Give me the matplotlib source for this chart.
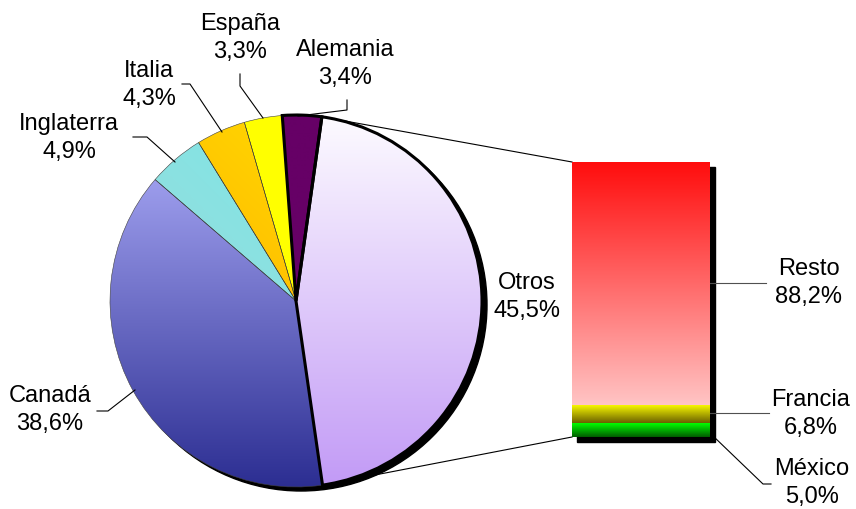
import numpy as np
import matplotlib
matplotlib.use('Agg')
import matplotlib.pyplot as plt
from matplotlib.colors import to_rgb
from matplotlib.patches import Rectangle, Circle

plt.rcParams['font.family'] = ['Liberation Sans', 'DejaVu Sans']

# ---- data ----
pie_labels = ['Otros', 'Canadá', 'Inglaterra', 'Italia', 'España', 'Alemania']
pie_values = [45.5, 38.6, 4.9, 4.3, 3.3, 3.4]
bar_labels = ['Resto', 'Francia', 'México']
bar_values = [88.2, 6.8, 5.0]

W, H = 856, 509
fig = plt.figure(figsize=(W / 100, H / 100), dpi=100)
fig.patch.set_facecolor('white')
ax = fig.add_axes([0, 0, 1, 1])


def py(y):
    return H - y


def grad_fill(axis, patch, c_start, c_end, extent, direction='v', zorder=2):
    n = 256
    t = np.linspace(0, 1, n)
    c0 = np.array(to_rgb(c_start))
    c1 = np.array(to_rgb(c_end))
    if direction == 'v':
        img = (c0[None, :] * (1 - t[:, None]) + c1[None, :] * t[:, None])[:, None, :]
    else:
        X, Y = np.meshgrid(t, t)
        s = (X + (1 - Y)) / 2
        img = c0 * (1 - s[..., None]) + c1 * s[..., None]
    im = axis.imshow(img, extent=extent, origin='upper', aspect='auto',
                     interpolation='bilinear', zorder=zorder)
    im.set_clip_path(patch)
    return im


# ---- pie ----
cx, cy, R = 296, py(301), 186
start = 82
ax.add_patch(Circle((cx + 5, cy - 4), R, color='black', zorder=1))
wedges, _ = ax.pie(pie_values, startangle=start, counterclock=False,
                   center=(cx, cy), radius=R)

pie_grads = [
    ('#fdfbff', '#c29af6', 'v'),
    ('#b4b4ff', '#2c2e92', 'v'),
    ('#a8d4d4', '#6eeeee', 'd'),
    ('#ff9800', '#ffee00', 'd'),
    ('#ffff00', '#ffff00', 'v'),
    ('#660066', '#660066', 'v'),
]
ext = (cx - R, cx + R, cy - R, cy + R)
for w, (c0, c1, d), lab in zip(wedges, pie_grads, pie_labels):
    grad_fill(ax, w, c0, c1, ext, d, zorder=2)
    w.set_facecolor('none')
    if lab in ('Otros', 'Alemania'):
        w.set_edgecolor('black')
        w.set_linewidth(2.2)
        w.set_zorder(5)
    else:
        w.set_edgecolor('#404040')
        w.set_linewidth(0.4)
        w.set_zorder(4)

# ---- bar ----
bx0, by0, bw, bh = 572, 162, 138, 275
ax.add_patch(Rectangle((bx0 + 5, py(by0 + bh + 5)), bw, bh, color='black', zorder=1))
bax = fig.add_axes([bx0 / W, (H - by0 - bh) / H, bw / W, bh / H])
bax.set_xlim(0, 1)
bax.set_ylim(0, sum(bar_values))
bax.axis('off')
bar_grads = {'Resto': ('#ff0d0d', '#ffc4c4'),
             'Francia': ('#ffff00', '#6a6000'),
             'México': ('#00ff00', '#005c00')}
order = [2, 1, 0]
bottom = 0
for i in order:
    v = bar_values[i]
    rects = bax.bar(0.5, v, width=1, bottom=bottom, color='none', edgecolor='none')
    r = rects[0]
    c0, c1 = bar_grads[bar_labels[i]]
    grad_fill(bax, r, c0, c1, (0, 1, bottom, bottom + v), 'v', zorder=2)
    bottom += v
bax.set_xlim(0, 1)
bax.set_ylim(0, sum(bar_values))

# ---- connector lines ----
tot = sum(pie_values)
a1 = np.deg2rad(start)
a2 = np.deg2rad(start - 360 * pie_values[0] / tot)
ax.plot([cx + R * np.cos(a1), bx0], [cy + R * np.sin(a1), py(by0)], color='black', lw=0.8, zorder=3)
ax.plot([cx + R * np.cos(a2), bx0], [cy + R * np.sin(a2), py(by0 + bh)], color='black', lw=0.8, zorder=3)

# ---- labels ----
fs = 17
label_pos = {
    'Otros': (527, 297), 'Canadá': (50, 410), 'Inglaterra': (69, 138),
    'Italia': (149, 85), 'España': (240, 38), 'Alemania': (345, 64),
    'Resto': (809, 283), 'Francia': (811, 414), 'México': (812, 483),
}
def fmt(v):
    return f'{v:.1f}'.replace('.', ',') + '%'

for lab, v in list(zip(pie_labels, pie_values)) + list(zip(bar_labels, bar_values)):
    x, y = label_pos[lab]
    ax.text(x, py(y), f'{lab}\n{fmt(v)}', ha='center', va='center', fontsize=fs,
            linespacing=1.3, color='black', zorder=6)

leaders = {
    'Alemania': [(347, 100), (347, 110), (298, 116)],
    'España': [(240, 74), (240, 86), (263, 118)],
    'Italia': [(182, 84), (190, 84), (222, 132)],
    'Inglaterra': [(133, 137), (147, 137), (175, 162)],
    'Canadá': [(97, 411), (108, 411), (135, 390)],
    'Resto': [(710, 283), (766, 283)],
    'Francia': [(708, 413), (769, 413)],
    'México': [(712, 435), (763, 484), (771, 484)],
}
for lab, pts in leaders.items():
    xs = [p[0] for p in pts]
    ys = [py(p[1]) for p in pts]
    col = '#505050' if lab in ('Resto', 'Francia') else 'black'
    ax.plot(xs, ys, color=col, lw=0.8, zorder=6)

ax.set_xlim(0, W)
ax.set_ylim(0, H)
ax.set_aspect('auto')
ax.axis('off')

fig.savefig('out.png', dpi=100, facecolor='white')
